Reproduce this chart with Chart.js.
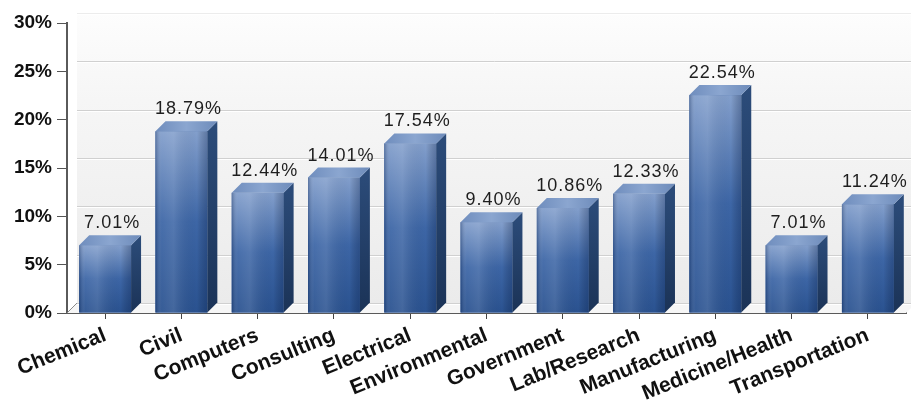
<!DOCTYPE html>
<html>
<head>
<meta charset="utf-8">
<script src="https://cdn.jsdelivr.net/npm/chart.js@4/dist/chart.umd.min.js"></script>
<style>
  html, body { margin: 0; padding: 0; background: #fff; }
  #wrap { width: 911px; height: 403px; }
</style>
</head>
<body>
<div id="wrap"><canvas id="fieldChart"></canvas></div>
<script>
const fields = ['Chemical', 'Civil', 'Computers', 'Consulting', 'Electrical', 'Environmental',
                'Government', 'Lab/Research', 'Manufacturing', 'Medicine/Health', 'Transportation'];
const shares = [7.01, 18.79, 12.44, 14.01, 17.54, 9.40, 10.86, 12.33, 22.54, 7.01, 11.24];
const yTicks = [0, 5, 10, 15, 20, 25, 30];

const DEPTH = 10; // 3d offset of the back wall and bar tops

// back wall, gridlines and floor drawn behind the bars
const wallPlugin = {
    id: 'wall',
    beforeDatasetsDraw(chart) {
        const {ctx, chartArea: a, scales: {y}} = chart;
        ctx.save();
        const g = ctx.createLinearGradient(0, a.top - DEPTH, 0, a.bottom - DEPTH);
        g.addColorStop(0, '#fdfdfd');
        g.addColorStop(0.3, '#f6f6f6');
        g.addColorStop(1, '#ebebeb');
        ctx.fillStyle = g;
        ctx.fillRect(a.left + DEPTH, a.top - DEPTH, a.right - a.left, a.bottom - a.top);

        // floor
        ctx.fillStyle = '#f6f6f6';
        ctx.beginPath();
        ctx.moveTo(a.left, a.bottom);
        ctx.lineTo(a.left + DEPTH, a.bottom - DEPTH);
        ctx.lineTo(a.right + DEPTH, a.bottom - DEPTH);
        ctx.lineTo(a.right, a.bottom);
        ctx.closePath();
        ctx.fill();

        ctx.lineWidth = 1;
        yTicks.forEach(v => {
            const py = Math.round(y.getPixelForValue(v) - DEPTH) + 0.5;
            ctx.strokeStyle = v === 30 ? '#ececec' : '#d0d0d0';
            ctx.beginPath();
            ctx.moveTo(a.left + DEPTH, py);
            ctx.lineTo(a.right + DEPTH, py);
            ctx.stroke();
            ctx.strokeStyle = '#ffffff';
            ctx.beginPath();
            ctx.moveTo(a.left + DEPTH, py + 1);
            ctx.lineTo(a.right + DEPTH, py + 1);
            ctx.stroke();
        });
        ctx.strokeStyle = '#8a8a8a';
        ctx.beginPath();
        ctx.moveTo(a.left, a.bottom);
        ctx.lineTo(a.left + DEPTH, a.bottom - DEPTH);
        ctx.stroke();
        ctx.restore();
    }
};

// shaded front, side and top faces plus the value labels
const barPlugin = {
    id: 'bars3d',
    afterDatasetsDraw(chart) {
        const {ctx} = chart;
        const meta = chart.getDatasetMeta(0);
        ctx.save();
        meta.data.forEach((bar, i) => {
            const {x, y, base, width} = bar.getProps(['x', 'y', 'base', 'width'], true);
            const l = x - width / 2, r = x + width / 2;

            // front
            const fg = ctx.createLinearGradient(0, y, 0, base);
            fg.addColorStop(0, '#839fcc');
            fg.addColorStop(0.5, '#3d66a6');
            fg.addColorStop(1, '#2a5290');
            ctx.fillStyle = fg;
            ctx.fillRect(l, y, width, base - y);
            const hg = ctx.createLinearGradient(l, 0, r, 0);
            hg.addColorStop(0, 'rgba(0,20,60,0.3)');
            hg.addColorStop(0.12, 'rgba(255,255,255,0.06)');
            hg.addColorStop(0.35, 'rgba(255,255,255,0.12)');
            hg.addColorStop(0.8, 'rgba(0,0,0,0)');
            hg.addColorStop(1, 'rgba(0,20,60,0.28)');
            ctx.fillStyle = hg;
            ctx.fillRect(l, y, width, base - y);

            // side
            const sg = ctx.createLinearGradient(0, y - DEPTH, 0, base);
            sg.addColorStop(0, '#2c4c7a');
            sg.addColorStop(1, '#1b3357');
            ctx.fillStyle = sg;
            ctx.beginPath();
            ctx.moveTo(r, y);
            ctx.lineTo(r + DEPTH, y - DEPTH);
            ctx.lineTo(r + DEPTH, base - DEPTH);
            ctx.lineTo(r, base);
            ctx.closePath();
            ctx.fill();

            // top
            const tg = ctx.createLinearGradient(l, 0, r + DEPTH, 0);
            tg.addColorStop(0, '#6f8dbd');
            tg.addColorStop(0.5, '#8ba6d0');
            tg.addColorStop(1, '#6d8bba');
            ctx.fillStyle = tg;
            ctx.beginPath();
            ctx.moveTo(l, y);
            ctx.lineTo(l + DEPTH, y - DEPTH);
            ctx.lineTo(r + DEPTH, y - DEPTH);
            ctx.lineTo(r, y);
            ctx.closePath();
            ctx.fill();

            // value label
            ctx.fillStyle = '#1e1e1e';
            ctx.font = '18px "Liberation Sans", Arial, sans-serif';
            ctx.letterSpacing = '1px';
            ctx.textAlign = 'center';
            ctx.textBaseline = 'bottom';
            ctx.fillText(shares[i].toFixed(2) + '%', x + DEPTH / 2 + 2, y - DEPTH - 3);
        });
        ctx.restore();
    }
};

new Chart(document.getElementById('fieldChart'), {
    type: 'bar',
    data: {
        labels: fields,
        datasets: [{
            data: shares,
            backgroundColor: '#3f68a8',
            borderWidth: 0,
            barPercentage: 0.68,
            categoryPercentage: 1
        }]
    },
    options: {
        responsive: true,
        maintainAspectRatio: false,
        animation: false,
        layout: { padding: { top: 23, right: 5, left: 0, bottom: 0 } },
        plugins: { legend: { display: false }, tooltip: { enabled: false } },
        scales: {
            x: {
                afterFit(scale) { scale.height = 90; },
                grid: { drawOnChartArea: false, offset: false, tickLength: 6, color: '#444' },
                border: { display: true, color: '#5a5a5a', width: 2 },
                ticks: {
                    color: '#111',
                    font: { family: '"Liberation Sans", Arial, sans-serif', size: 21, weight: 'bold' },
                    minRotation: 22,
                    maxRotation: 22,
                    autoSkip: false,
                    padding: 4
                }
            },
            y: {
                min: 0,
                max: 30,
                afterFit(scale) { scale.width = 67; },
                afterBuildTicks(scale) { scale.ticks = yTicks.map(v => ({value: v})); },
                grid: { drawOnChartArea: false, tickLength: 10, color: '#555' },
                border: { display: true, color: '#5a5a5a', width: 2 },
                ticks: {
                    color: '#111',
                    padding: 5,
                    font: { family: '"Liberation Sans", Arial, sans-serif', size: 19, weight: 'bold' },
                    callback: v => v + '%'
                }
            }
        }
    },
    plugins: [wallPlugin, barPlugin]
});
</script>
</body>
</html>
